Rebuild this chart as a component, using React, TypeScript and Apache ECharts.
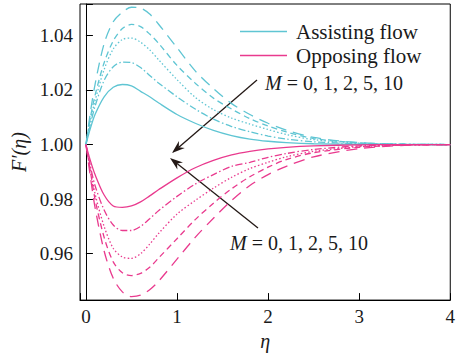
import React, { useEffect, useRef } from "react";
import * as echarts from "echarts";

const eta = [0, 0.05, 0.1, 0.2, 0.3, 0.4, 0.5, 0.6, 0.7, 0.8, 1.0, 1.2, 1.4, 1.6, 1.8, 2.0, 2.2, 2.5, 3.0, 3.5, 4.0];

const assistM0 = [1.0, 1.006, 1.011, 1.0175, 1.021, 1.022, 1.0215, 1.0195, 1.0175, 1.0152, 1.011, 1.0078, 1.0052, 1.0033, 1.002, 1.0012, 1.0007, 1.0003, 1.0001, 1.0, 1.0];
const assistM1 = [1.0, 1.0075, 1.014, 1.0235, 1.0285, 1.0302, 1.03, 1.0282, 1.0253, 1.0225, 1.0175, 1.013, 1.0093, 1.0066, 1.0047, 1.0031, 1.002, 1.001, 1.0003, 1.0001, 1.0];
const assistM2 = [1.0, 1.009, 1.016, 1.0275, 1.035, 1.0385, 1.039, 1.0375, 1.0347, 1.031, 1.0238, 1.0173, 1.0128, 1.0097, 1.0075, 1.0055, 1.0037, 1.0018, 1.0005, 1.0001, 1.0];
const assistM5 = [1.0, 1.01, 1.018, 1.03, 1.038, 1.0425, 1.044, 1.0432, 1.0405, 1.037, 1.029, 1.0225, 1.017, 1.013, 1.0095, 1.0068, 1.0046, 1.0022, 1.0006, 1.0001, 1.0];
const assistM10 = [1.0, 1.012, 1.022, 1.037, 1.045, 1.0485, 1.0503, 1.05, 1.0478, 1.044, 1.0355, 1.027, 1.0205, 1.015, 1.011, 1.0078, 1.0053, 1.0026, 1.0007, 1.0001, 1.0];

const opposeM0 = [1.0, 0.994, 0.989, 0.9815, 0.9775, 0.977, 0.9775, 0.979, 0.9812, 0.9835, 0.9878, 0.9915, 0.9942, 0.9962, 0.9975, 0.9984, 0.999, 0.9995, 0.9999, 1.0, 1.0];
const opposeM1 = [1.0, 0.992, 0.985, 0.976, 0.9705, 0.9685, 0.9685, 0.97, 0.9728, 0.9758, 0.981, 0.9855, 0.989, 0.992, 0.9935, 0.9953, 0.9967, 0.9982, 0.9995, 0.9999, 1.0];
const opposeM2 = [1.0, 0.991, 0.982, 0.97, 0.962, 0.9588, 0.9583, 0.96, 0.9635, 0.9675, 0.9745, 0.9795, 0.984, 0.988, 0.9912, 0.9935, 0.9955, 0.9975, 0.9992, 0.9998, 1.0];
const opposeM5 = [1.0, 0.99, 0.98, 0.966, 0.957, 0.953, 0.952, 0.9528, 0.955, 0.9585, 0.9655, 0.9725, 0.9785, 0.9838, 0.9882, 0.9917, 0.9945, 0.997, 0.999, 0.9998, 1.0];
const opposeM10 = [1.0, 0.988, 0.977, 0.961, 0.951, 0.946, 0.9443, 0.9448, 0.9468, 0.95, 0.958, 0.966, 0.973, 0.9795, 0.985, 0.989, 0.992, 0.9955, 0.9985, 0.9997, 1.0];

const mLabel = "0, 1, 2, 5, 10";
const legendNames = ["Assisting flow", "Opposing flow"];

const CYAN = "#5fc5d3";
const MAGENTA = "#e93a8e";
const dashTypes: any[] = ["solid", [7, 2.5, 1.5, 2.5], [1.5, 2.2], [6, 4], [11, 7]];
const FONT = "Liberation Serif";

function pairs(ys: number[]) {
  return eta.map((x, i) => [x, ys[i]]);
}

function arrow(x1: number, y1: number, x2: number, y2: number) {
  const dx = x2 - x1, dy = y2 - y1;
  const len = Math.sqrt(dx * dx + dy * dy);
  const ux = dx / len, uy = dy / len;
  const px = -uy, py = ux;
  const L = 13, W = 4.5, N = 9;
  const bx = x2 - ux * N, by = y2 - uy * N;
  const wx = x2 - ux * L, wy = y2 - uy * L;
  return [
    { type: "line", shape: { x1, y1, x2: bx, y2: by }, style: { stroke: "#231815", lineWidth: 1.3 } },
    {
      type: "polygon",
      shape: { points: [[x2, y2], [wx + px * W, wy + py * W], [bx, by], [wx - px * W, wy - py * W]] },
      style: { fill: "#231815" },
    },
  ];
}

function mText(x: number, y: number) {
  return {
    type: "text",
    x,
    y,
    style: {
      text: "{i|M} = " + mLabel,
      verticalAlign: "middle",
      fontFamily: FONT,
      fontSize: 20,
      fill: "#1a1a1a",
      rich: { i: { fontStyle: "italic", fontFamily: FONT, fontSize: 20, fill: "#1a1a1a" } },
    },
  };
}

export default function App() {
  const ref = useRef<HTMLDivElement>(null);
  useEffect(() => {
    document.body.style.margin = "0";
    const chart = echarts.init(ref.current!, null, { renderer: "svg" });
    const assist = [assistM0, assistM1, assistM2, assistM5, assistM10];
    const oppose = [opposeM0, opposeM1, opposeM2, opposeM5, opposeM10];
    const series: any[] = [];
    assist.forEach((ys, i) => {
      series.push({
        type: "line",
        name: i === 0 ? legendNames[0] : "a" + i,
        data: pairs(ys),
        smooth: 0.3,
        showSymbol: false,
        symbol: "none",
        lineStyle: { color: CYAN, width: 1.3, type: dashTypes[i] },
        itemStyle: { color: CYAN },
      });
    });
    oppose.forEach((ys, i) => {
      series.push({
        type: "line",
        name: i === 0 ? legendNames[1] : "o" + i,
        data: pairs(ys),
        smooth: 0.3,
        showSymbol: false,
        symbol: "none",
        lineStyle: { color: MAGENTA, width: 1.3, type: dashTypes[i] },
        itemStyle: { color: MAGENTA },
      });
    });
    chart.setOption({
      animation: false,
      grid: { left: 80, right: 3, top: 4, bottom: 49, show: true, borderColor: "#000", borderWidth: 1 },
      legend: {
        data: legendNames.map((n) => ({ name: n, icon: "rect" })),
        orient: "vertical",
        left: 240,
        top: 21,
        padding: 0,
        itemWidth: 47,
        itemHeight: 1.4,
        itemGap: 3,
        selectedMode: false,
        textStyle: { fontFamily: FONT, fontSize: 21, color: "#1a1a1a", padding: [0, 0, 0, 4] },
      },
      xAxis: {
        type: "value",
        min: -0.065,
        max: 4,
        splitNumber: 4,
        name: "η",
        nameLocation: "middle",
        nameGap: 24,
        nameTextStyle: { fontFamily: FONT, fontStyle: "italic", fontSize: 20, color: "#1a1a1a" },
        axisLine: { lineStyle: { color: "#000", width: 1 } },
        axisTick: { inside: true, length: 7, lineStyle: { color: "#000" } },
        splitLine: { show: false },
        axisLabel: {
          margin: 7,
          fontFamily: FONT,
          fontSize: 19,
          color: "#1a1a1a",
          formatter: (v: number) => (Math.abs(v - Math.round(v)) < 1e-6 ? String(Math.round(v)) : ""),
        },
      },
      yAxis: {
        type: "value",
        min: 0.943,
        max: 1.0515,
        name: "F′(η)",
        nameLocation: "middle",
        nameGap: 50,
        nameTextStyle: { fontFamily: FONT, fontStyle: "italic", fontSize: 20, color: "#1a1a1a" },
        axisLine: { show: true, lineStyle: { color: "#000", width: 1 } },
        axisTick: { show: true, inside: true, length: 7, lineStyle: { color: "#000" } },
        splitLine: { show: false },
        axisLabel: {
          margin: 7,
          fontFamily: FONT,
          fontSize: 19,
          color: "#1a1a1a",
          formatter: (v: number) => {
            const k = Math.round(v / 0.02);
            return Math.abs(v - k * 0.02) < 1e-6 ? v.toFixed(2) : "";
          },
        },
      },
      graphic: [...arrow(257, 80, 172, 153), ...arrow(258, 228, 170, 158), mText(265, 83), mText(230, 243)],
      series,
    });
    return () => chart.dispose();
  }, []);
  return <div ref={ref} style={{ width: 458, height: 356 }} />;
}
